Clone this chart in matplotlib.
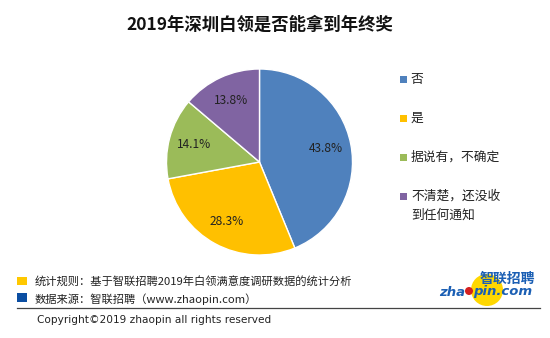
import matplotlib
matplotlib.use("Agg")
import matplotlib.pyplot as plt
from matplotlib.patches import Rectangle, Circle

plt.rcParams['font.family'] = ['Noto Sans CJK SC', 'DejaVu Sans']

title = "2019年深圳白领是否能拿到年终奖"
categories = ["否", "是", "据说有，不确定", "不清楚，还没收\n到任何通知"]
values = [43.8, 28.3, 14.1, 13.8]
colors = ["#4F81BD", "#FFC000", "#9BBB59", "#8064A2"]
note1 = "统计规则：基于智联招聘2019年白领满意度调研数据的统计分析"
note2 = "数据来源：智联招聘（www.zhaopin.com）"
copyright_text = "Copyright©2019 zhaopin all rights reserved"

W, H = 550, 338
fig = plt.figure(figsize=(W/100, H/100), dpi=100)

# overlay axes in pixel coordinates (y downward)
ov = fig.add_axes([0, 0, 1, 1], zorder=0)
ov.set_xlim(0, W); ov.set_ylim(H, 0); ov.axis('off')

# Title
ov.text(260, 25, title, ha='center', va='center', fontsize=12.5, fontweight='bold', color='#111111')

# Pie
cx, cy, r = 259.5, 162, 93
ax = fig.add_axes([(cx - r)/W, 1 - (cy + r)/H, 2*r/W, 2*r/H], zorder=1)
wedges, texts, autotexts = ax.pie(values, colors=colors, startangle=90, counterclock=False,
                                  autopct=lambda p: f"{p:.1f}%", pctdistance=0.73,
                                  wedgeprops=dict(edgecolor='white', linewidth=1),
                                  textprops=dict(fontsize=8.6, color='#222222'))
ax.set_xlim(-1, 1); ax.set_ylim(-1, 1)
ax.set_aspect('auto')
ax.axis('off')

# Legend
leg_y = [79, 118, 157, 196]
for yy, lab, c in zip(leg_y, categories, colors):
    ov.add_patch(Rectangle((400, yy - 3), 6.5, 6.5, facecolor=c, edgecolor='none'))
    for i, ln in enumerate(lab.split('\n')):
        ov.text(411, yy + i*19, ln, ha='left', va='center', fontsize=9.2, color='#222222')

# Footer notes
ov.add_patch(Rectangle((17, 277), 10, 8, facecolor='#FFC800', edgecolor='none'))
ov.add_patch(Rectangle((17, 293), 10, 9, facecolor='#0B4EA2', edgecolor='none'))
ov.text(35, 281, note1, ha='left', va='center', fontsize=8.1, color='#222222')
ov.text(35, 299, note2, ha='left', va='center', fontsize=8.1, color='#222222')

# Horizontal rule
ov.plot([17, 540], [307.5, 307.5], color='#444444', linewidth=0.9)

ov.text(37, 320, copyright_text, ha='left', va='center', fontsize=7.6, color='#222222',
        family=['DejaVu Sans'])

# Logo
ov.add_patch(Circle((487, 290), 16, facecolor='#FFD700', edgecolor='none'))
ov.text(507, 279, "智联招聘", ha='center', va='center', fontsize=10, fontweight='bold',
        color='#1B5FB4', style='italic')
ov.text(465, 292, "zha", ha='right', va='center', fontsize=9.5, fontweight='bold',
        color='#1B5FB4', style='italic', family=['DejaVu Sans'])
ov.text(473, 292, "pin.com", ha='left', va='center', fontsize=9.5, fontweight='bold',
        color='#1B5FB4', style='italic', family=['DejaVu Sans'])
ov.add_patch(Circle((469, 291), 4, facecolor='#D42020', edgecolor='none'))

fig.savefig("out.png", dpi=100)
